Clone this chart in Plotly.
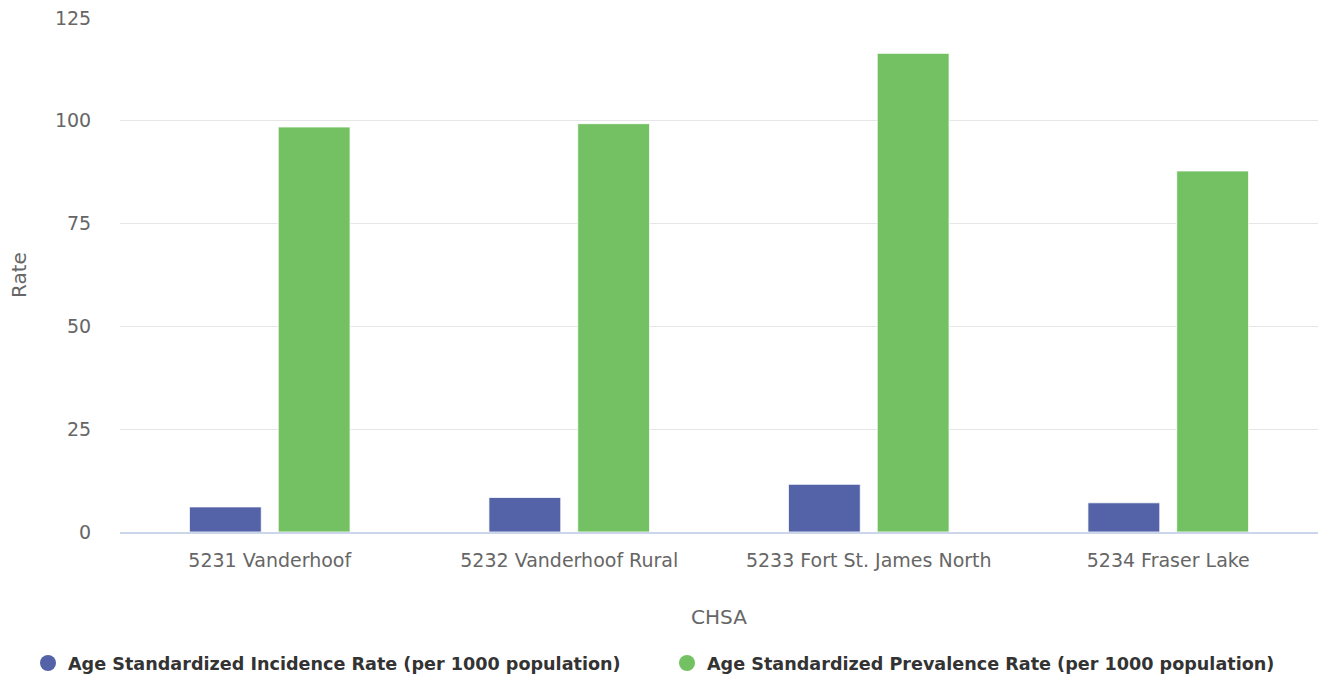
import plotly.graph_objects as go

categories = ["5231 Vanderhoof", "5232 Vanderhoof Rural", "5233 Fort St. James North", "5234 Fraser Lake"]
incidence = [6.1, 8.4, 11.6, 7.1]
prevalence = [98.5, 99.3, 116.4, 87.8]
series_names = ["Age Standardized Incidence Rate (per 1000 population)",
                "Age Standardized Prevalence Rate (per 1000 population)"]
colors = ["#5463a7", "#74c163"]
y_ticks = [0, 25, 50, 75, 100, 125]

FONT = "DejaVu Sans"
fig = go.Figure()
for name, vals, col in zip(series_names, [incidence, prevalence], colors):
    fig.add_trace(go.Bar(x=categories, y=vals, name=name, showlegend=False,
                         marker=dict(color=col, line=dict(color="white", width=0.8))))
for name, col in zip(series_names, colors):
    fig.add_trace(go.Scatter(x=[None], y=[None], mode="markers", name=name,
                             marker=dict(symbol="circle", size=17, color=col)))

fig.update_layout(
    width=1319, height=677,
    margin=dict(l=120, r=1, t=18, b=145, autoexpand=False),
    plot_bgcolor="white", paper_bgcolor="white",
    barmode="group", bargap=0.407, bargroupgap=0.191,
    font=dict(family=FONT, color="#666666", size=19),
    legend=dict(orientation="h", x=-0.0768, xanchor="left", y=-0.255, yanchor="middle",
                font=dict(family=FONT, size=17.6, color="#333333", weight="bold"),
                traceorder="normal", entrywidth=594, entrywidthmode="pixels"),
    xaxis=dict(showgrid=False, showline=True, linecolor="#ccd6eb", linewidth=2,
               ticks="outside", ticklen=10, tickcolor="rgba(0,0,0,0)",
               tickfont=dict(size=19, color="#666666"),
               title=dict(text="CHSA", font=dict(size=20, color="#666666"), standoff=40)),
    yaxis=dict(range=[0, 125], tickvals=y_ticks, showgrid=True, gridcolor="#e6e6e6",
               gridwidth=1, zeroline=False, ticks="outside", ticklen=24,
               tickcolor="rgba(0,0,0,0)", tickfont=dict(size=19, color="#666666"),
               title=dict(text="Rate", font=dict(size=20, color="#666666"), standoff=22)),
)
fig.write_html("out.html", config={"displayModeBar": False},
               post_script="document.body.style.margin='0';document.body.style.overflow='hidden';")
